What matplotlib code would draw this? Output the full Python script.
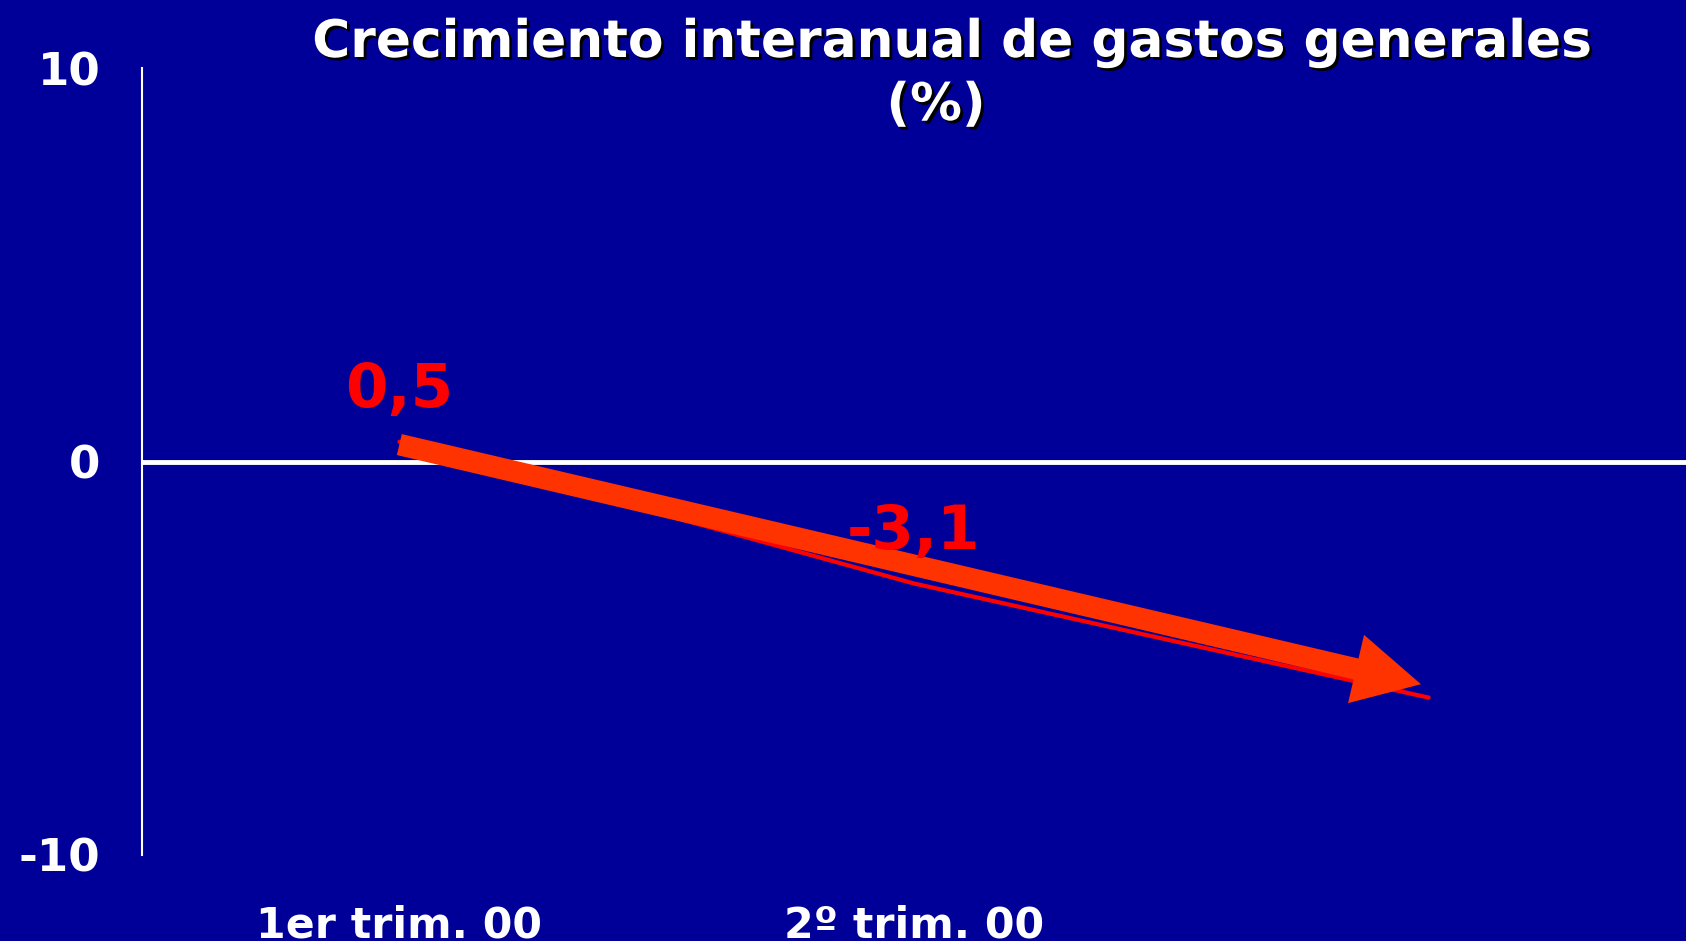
import matplotlib
matplotlib.use("Agg")
import matplotlib.pyplot as plt
import matplotlib.patheffects as pe

# datos
categorias = ["1er trim. 00", "2º trim. 00", ""]
crecimiento = [0.5, -3.1, -6.0]
etiquetas = ["0,5", "-3,1", ""]
y_ticks = [-10, 0, 10]
y_ticklabels = ["-10", "0", "10"]
flecha_inicio = (1.0, 0.43)
flecha_fin = (2.985, -5.66)

FONDO = "#000099"
plt.rcParams["font.family"] = ["DejaVu Sans"]

fig = plt.figure(figsize=(16.86, 9.41), dpi=100, facecolor=FONDO)
# eje: x 142..1686 px, y 68..855 px
ax = fig.add_axes([142 / 1686, 1 - 855 / 941, 1 - 142 / 1686, (855 - 68) / 941])
ax.set_facecolor(FONDO)

x = list(range(1, len(crecimiento) + 1))
ax.plot(x, crecimiento, color="#FF0000", lw=3, solid_capstyle="round", zorder=3)

# flecha de tendencia
ax.annotate("", xy=flecha_fin, xytext=flecha_inicio,
            arrowprops=dict(arrowstyle="simple,head_length=4.8,head_width=5.05,tail_width=1.55",
                            mutation_scale=10, color="#FF3300", lw=0,
                            shrinkA=0, shrinkB=0), zorder=4)

for xi, yi, txt in zip(x, crecimiento, etiquetas):
    if txt:
        ax.annotate(txt, (xi, yi), xytext=(0, 25), textcoords="offset points",
                    ha="center", va="baseline", color="#FF0000",
                    fontsize=44, fontweight="bold", zorder=5)

ax.axhline(0, color="white", lw=3.5, zorder=2)
ax.set_xlim(0.5, 3.5)
ax.set_ylim(-10, 10)

for s in ["top", "right", "bottom"]:
    ax.spines[s].set_visible(False)
ax.spines["left"].set_color("white")
ax.spines["left"].set_linewidth(1.5)

ax.set_yticks(y_ticks)
ax.set_yticklabels(y_ticklabels, fontsize=32.5, fontweight="bold", color="white")
ax.set_xticks(x)
ax.set_xticklabels(categorias, fontsize=30.8, fontweight="bold", color="white")
ax.tick_params(axis="y", length=0, pad=30)
ax.tick_params(axis="x", length=0, pad=36)

sombra = [pe.withSimplePatchShadow(offset=(2, -2), shadow_rgbFace="black", alpha=1)]
fig.text(952 / 1686, 1 - 57 / 941, "Crecimiento interanual de gastos generales",
         ha="center", va="baseline", color="white", fontsize=37.3, fontweight="bold",
         path_effects=sombra)
fig.text(936 / 1686, 1 - 120 / 941, "(%)",
         ha="center", va="baseline", color="white", fontsize=37.3, fontweight="bold",
         path_effects=sombra)

fig.savefig("out.png", dpi=100, facecolor=FONDO)
